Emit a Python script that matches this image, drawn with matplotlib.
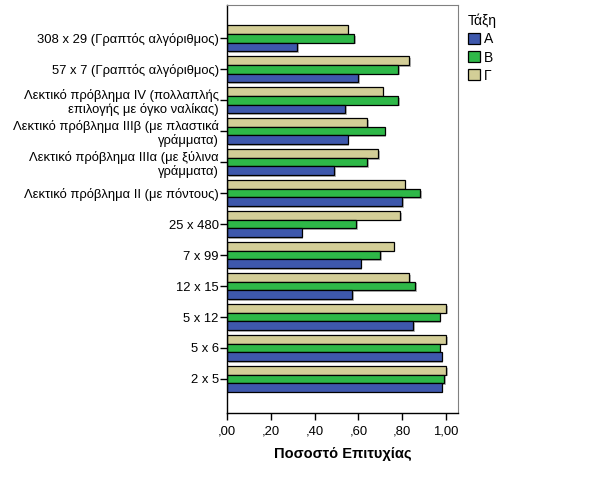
import matplotlib
matplotlib.use("Agg")
import matplotlib.pyplot as plt
import matplotlib.patheffects as pe
import numpy as np

plt.rcParams['font.family'] = ['Liberation Sans', 'DejaVu Sans']

categories = [
    "308 x 29 (Γραπτός αλγόριθμος)",
    "57 x 7 (Γραπτός αλγόριθμος)",
    "Λεκτικό πρόβλημα IV (πολλαπλής\nεπιλογής με όγκο ναλίκας)",
    "Λεκτικό πρόβλημα IIIβ (με πλαστικά\nγράμματα)",
    "Λεκτικό πρόβλημα IIIα (με ξύλινα\nγράμματα)",
    "Λεκτικό πρόβλημα II (με πόντους)",
    "25 x 480",
    "7 x 99",
    "12 x 15",
    "5 x 12",
    "5 x 6",
    "2 x 5",
]
series_names = ["Α", "Β", "Γ"]
vals_A = [0.32, 0.60, 0.54, 0.55, 0.49, 0.80, 0.34, 0.61, 0.57, 0.85, 0.98, 0.98]
vals_B = [0.58, 0.78, 0.78, 0.72, 0.64, 0.88, 0.59, 0.70, 0.86, 0.97, 0.97, 0.99]
vals_G = [0.55, 0.83, 0.71, 0.64, 0.69, 0.81, 0.79, 0.76, 0.83, 1.00, 1.00, 1.00]
xtick_vals = [0.0, 0.2, 0.4, 0.6, 0.8, 1.0]
xtick_labels = [",00", ",20", ",40", ",60", ",80", "1,00"]

colors = {"Α": "#3E58AC", "Β": "#2EB848", "Γ": "#D3CE97"}

fig = plt.figure(figsize=(6.14, 5.0), dpi=100)
ax = fig.add_axes([227/614, 1-413/500, (458-227)/614, (413-5)/500])

y = np.arange(len(categories))
h = 0.277
shadow = [pe.SimplePatchShadow(offset=(1.2, -1.2), shadow_rgbFace='#888888', alpha=0.6), pe.Normal()]
for vals, name, off in [(vals_G, "Γ", -h), (vals_B, "Β", 0.0), (vals_A, "Α", h)]:
    bars = ax.barh(y + off, vals, height=h, color=colors[name], edgecolor='black',
                   linewidth=0.9, label=name)
    for b in bars:
        b.set_path_effects(shadow)

ax.set_ylim(len(categories) - 1 + 1.1, -1.075)
ax.set_xlim(0, 1.054)
ax.set_yticks(y)
ax.set_yticklabels(categories, fontsize=9.4, linespacing=1.15)
ax.set_xticks(xtick_vals)
ax.set_xticklabels(xtick_labels, fontsize=9.4)
ax.tick_params(axis='both', direction='out', length=5, width=1, colors='black')
ax.tick_params(axis='y', pad=1)
ax.tick_params(axis='x', pad=4)
for s in ['top', 'right']:
    ax.spines[s].set_color('#808080')
    ax.spines[s].set_linewidth(0.8)
for s in ['left', 'bottom']:
    ax.spines[s].set_color('black')
    ax.spines[s].set_linewidth(1.0)

ax.set_xlabel("Ποσοστό Επιτυχίας", fontsize=10.5, fontweight='bold', labelpad=7)

handles, labels = ax.get_legend_handles_labels()
order = [labels.index(n) for n in series_names]
leg = fig.legend([handles[i] for i in order], [labels[i] for i in order],
                 title="Τάξη", loc='upper left', bbox_to_anchor=(458/614, 1-4/500),
                 frameon=False, fontsize=10, title_fontsize=10,
                 handlelength=0.85, handleheight=0.85, handletextpad=0.3,
                 labelspacing=0.3, borderpad=0.2)
leg._legend_box.align = "left"
for p in leg.get_patches():
    p.set_path_effects([])

fig.savefig("out.png", dpi=100)
